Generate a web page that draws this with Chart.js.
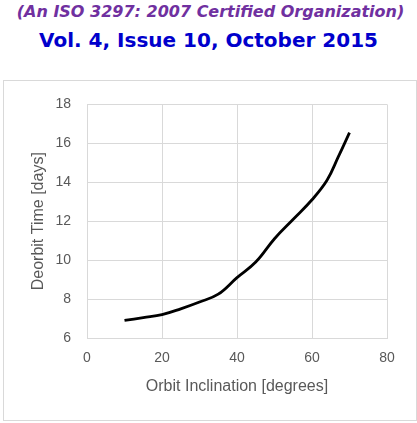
<!DOCTYPE html>
<html>
<head>
<meta charset="utf-8">
<script src="https://cdn.jsdelivr.net/npm/chart.js@4"></script>
<style>
    body { margin: 0; background: #fff; width: 417px; height: 423px; overflow: hidden; position: relative; }
    .head { position: absolute; left: 0; width: 417px; text-align: center; white-space: nowrap; font-family: "DejaVu Sans", sans-serif; font-weight: bold; }
    #h1 { top: 2px; left: 2px; font-size: 16px; font-style: italic; color: #7030a0; }
    #h2 { top: 28px; font-size: 20px; color: #0000cc; }
    #frame { position: absolute; left: 3px; top: 80px; width: 412px; height: 339px; border: 1px solid #d9d9d9; }
    #wrap { position: absolute; left: 0; top: 80px; width: 417px; height: 343px; }
</style>
</head>
<body>
<div class="head" id="h1">(An ISO 3297: 2007 Certified Organization)</div>
<div class="head" id="h2">Vol. 4, Issue 10, October 2015</div>
<div id="frame"></div>
<div id="wrap"><canvas id="chart"></canvas></div>
<script>
// Deorbit time vs orbit inclination
const inclination = [10, 15, 20, 25, 30, 35, 40, 45, 50, 55, 60, 64, 67, 70];
const deorbitDays = [6.9, 7.05, 7.2, 7.5, 7.85, 8.25, 9.1, 9.9, 11.1, 12.1, 13.1, 14.1, 15.3, 16.55];

const xTicks = [0, 20, 40, 60, 80];
const yTicks = [6, 8, 10, 12, 14, 16, 18];

const gridColor = '#d9d9d9';
const textColor = '#595959';
const fontFamily = '"Liberation Sans", Arial, sans-serif';

const points = inclination.map((x, i) => ({ x: x, y: deorbitDays[i] }));

new Chart(document.getElementById('chart'), {
    type: 'scatter',
    data: {
        datasets: [{
            data: points,
            showLine: true,
            borderColor: '#000',
            borderWidth: 2.8,
            pointRadius: 0,
            tension: 0.4
        }]
    },
    options: {
        responsive: true,
        maintainAspectRatio: false,
        animation: false,
        layout: { padding: { top: 20, right: 30, left: 0, bottom: 0 } },
        plugins: { legend: { display: false }, tooltip: { enabled: false } },
        scales: {
            x: {
                type: 'linear',
                min: xTicks[0],
                max: xTicks[xTicks.length - 1],
                afterBuildTicks: function(axis) { axis.ticks = xTicks.map(v => ({ value: v })); },
                afterFit: function(axis) { axis.height = 85; },
                grid: { color: gridColor, drawTicks: false },
                border: { color: gridColor },
                ticks: { color: textColor, padding: 12, font: { family: fontFamily, size: 14 } },
                title: {
                    display: true,
                    text: 'Orbit Inclination [degrees]',
                    color: textColor,
                    font: { family: fontFamily, size: 16 },
                    padding: { top: 0, bottom: 27 }
                }
            },
            y: {
                min: yTicks[0],
                max: yTicks[yTicks.length - 1],
                afterBuildTicks: function(axis) { axis.ticks = yTicks.map(v => ({ value: v })); },
                afterFit: function(axis) { axis.width = 87; },
                grid: { color: gridColor, drawTicks: false },
                border: { color: gridColor },
                ticks: { color: textColor, padding: 16, font: { family: fontFamily, size: 14 } },
                title: {
                    display: true,
                    text: 'Deorbit Time [days]',
                    color: textColor,
                    font: { family: fontFamily, size: 16 },
                    padding: { top: 29, bottom: 0 }
                }
            }
        }
    }
});
</script>
</body>
</html>
